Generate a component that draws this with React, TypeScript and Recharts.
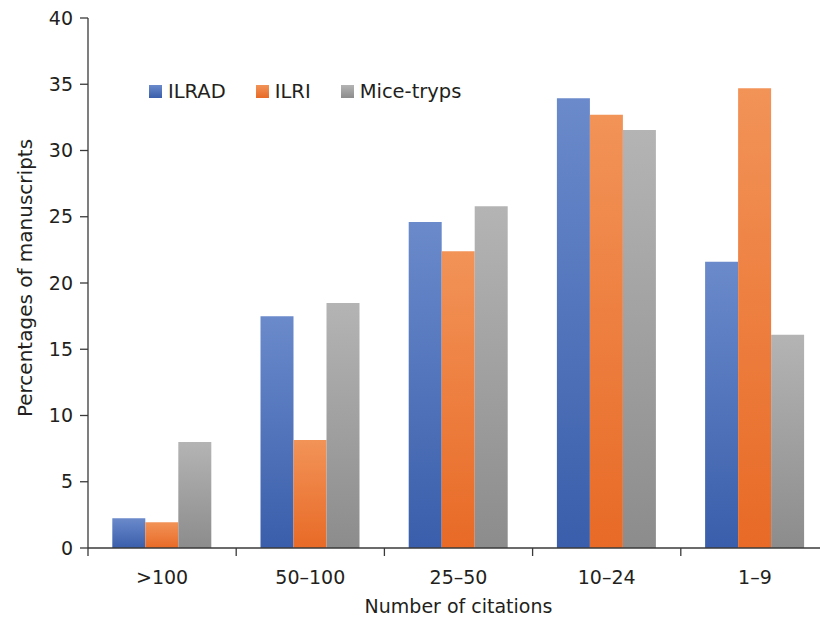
import React from "react";
import { BarChart, Bar, XAxis, YAxis, Legend, Label } from "recharts";

const categories = [">100", "50\u2013100", "25\u201350", "10\u201324", "1\u20139"];
const ilrad = [2.25, 17.5, 24.6, 33.95, 21.6];
const ilri = [1.95, 8.15, 22.4, 32.7, 34.7];
const miceTryps = [8.0, 18.5, 25.8, 31.55, 16.1];
const yTicks = [0, 5, 10, 15, 20, 25, 30, 35, 40];

const seriesNames = ["ILRAD", "ILRI", "Mice-tryps"];
const seriesKeys = ["ilrad", "ilri", "mice"];

const data = categories.map((c, i) => ({
  cat: c,
  ilrad: ilrad[i],
  ilri: ilri[i],
  mice: miceTryps[i],
}));

const FONT = "'DejaVu Sans', sans-serif";
const TEXT = "#231f20";
const AXIS = "#3a3a3a";

const grads = [
  { id: "gBlue", top: "#6a8acb", bottom: "#3a5eab" },
  { id: "gOrange", top: "#f29358", bottom: "#e86a26" },
  { id: "gGray", top: "#b4b4b4", bottom: "#8c8c8c" },
];

const XTick = (props: any) => {
  const { x, y, payload } = props;
  const off = payload && payload.offset ? payload.offset : 0;
  return (
    <g>
      <line x1={x - off} x2={x - off} y1={y} y2={y + 8} stroke={AXIS} strokeWidth={1.3} />
      <text x={x} y={y + 36} textAnchor="middle" fill={TEXT} fontSize={19} fontFamily={FONT}>
        {payload.value}
      </text>
    </g>
  );
};

const LegendContent = () => (
  <div style={{ height: 0, width: 0, overflow: "visible" }}>
    <div style={{ display: "flex", alignItems: "center", fontFamily: FONT, fontSize: 19.5, lineHeight: 1, color: TEXT, whiteSpace: "nowrap" }}>
      {seriesNames.map((n, i) => (
        <div key={n} style={{ display: "flex", alignItems: "center", marginRight: 30 }}>
          <svg width={13} height={13} style={{ marginRight: 6 }}>
            <rect x={0} y={0} width={13} height={13} fill={`url(#${grads[i].id})`} />
          </svg>
          <span>{n}</span>
        </div>
      ))}
    </div>
  </div>
);

export default function App() {
  return (
    <div style={{ position: "absolute", left: 0, top: 0, width: 820, height: 619, overflow: "hidden", background: "#fff" }}>
      <BarChart
        width={829}
        height={619}
        data={data}
        margin={{ top: 18, right: 0, bottom: 0, left: 0 }}
        barCategoryGap="16.4%"
        barGap={0}
      >
        <defs>
          {grads.map((g) => (
            <linearGradient key={g.id} id={g.id} x1="0" y1="0" x2="0" y2="1">
              <stop offset="0%" stopColor={g.top} />
              <stop offset="100%" stopColor={g.bottom} />
            </linearGradient>
          ))}
        </defs>
        <XAxis
          dataKey="cat"
          height={71}
          tickSize={0}
          tickMargin={0}
          tick={<XTick />}
          axisLine={{ stroke: AXIS, strokeWidth: 1.3 }}
          interval={0}
        >
          <Label
            value="Number of citations"
            position="insideBottom"
            offset={6}
            style={{ fontFamily: FONT, fontSize: 19, fill: TEXT }}
          />
        </XAxis>
        <YAxis
          width={88}
          domain={[0, 40]}
          ticks={yTicks}
          interval={0}
          tickSize={8}
          tickMargin={7}
          axisLine={{ stroke: AXIS, strokeWidth: 1.3 }}
          tickLine={{ stroke: AXIS, strokeWidth: 1.3 }}
          tick={{ fill: TEXT, fontSize: 19, fontFamily: FONT }}
        >
          <Label
            content={(p: any) => {
              const vb = p.viewBox;
              const cx = 32;
              const cy = vb.y + vb.height / 2 - 5;
              return (
                <text
                  x={cx}
                  y={cy}
                  transform={`rotate(-90, ${cx}, ${cy})`}
                  textAnchor="middle"
                  fill={TEXT}
                  fontSize={20}
                  fontFamily={FONT}
                >
                  Percentages of manuscripts
                </text>
              );
            }}
          />
        </YAxis>
        <Legend
          verticalAlign="top"
          align="left"
          content={<LegendContent />}
          wrapperStyle={{ position: "absolute", left: 149, top: 82, width: 0, height: 0 }}
        />
        {seriesKeys.map((k, i) => (
          <Bar key={k} dataKey={k} name={seriesNames[i]} fill={`url(#${grads[i].id})`} isAnimationActive={false} />
        ))}
      </BarChart>
    </div>
  );
}
